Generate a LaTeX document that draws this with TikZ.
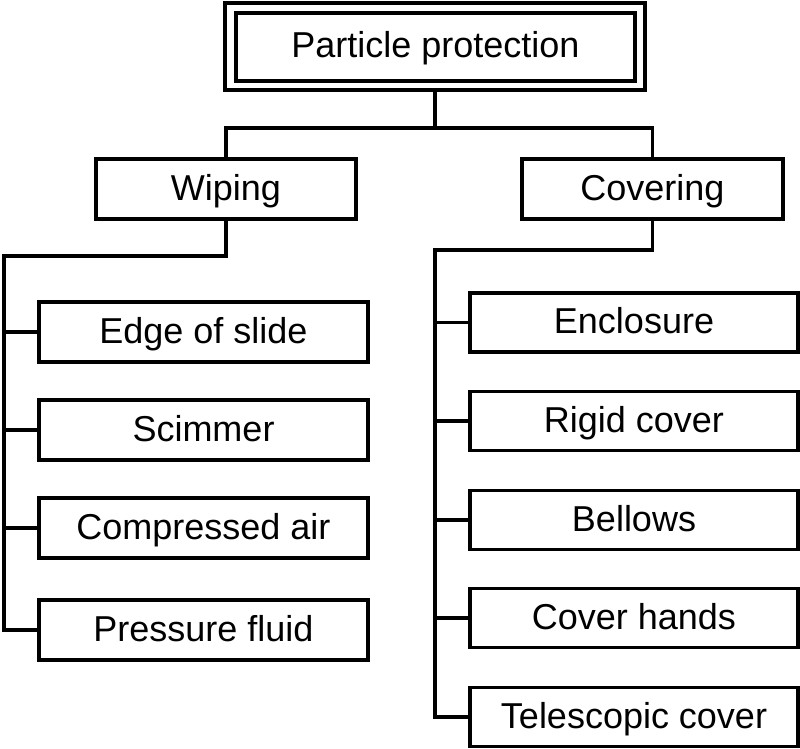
\documentclass[tikz,border=0pt]{standalone}
\usepackage{fontspec}
\setmainfont{Liberation Sans}
\begin{document}
\begin{tikzpicture}[x=1pt,y=-1pt,
  line width=3.5pt,
  box/.style={draw, line width=3.5pt, rectangle, inner sep=0pt, outer sep=0pt,
    font=\fontsize{36}{40}\selectfont, text height=27pt, text depth=5pt, align=center},
  lbox/.style={box, minimum width=329pt, minimum height=60pt},
  rbox/.style={box, minimum width=328pt, minimum height=59pt},
  conn/.style={line width=3.6pt, line join=miter}
]
\useasboundingbox (0,0) rectangle (800,749);

% top double box
\node[draw, line width=3.5pt, inner sep=0pt, outer sep=0pt, minimum width=420pt, minimum height=87pt] (topouter) at (435,46.5) {};
\node[box, minimum width=399pt, minimum height=68pt] (top) at (435.5,47) {Particle protection};

% level 2
\node[box, minimum width=260pt, minimum height=60pt] (wip) at (226,189) {Wiping};
\node[box, minimum width=261pt, minimum height=60pt] (cov) at (652.5,189) {Covering};

% left column
\node[lbox] (e1) at (203.5,332) {Edge of slide};
\node[lbox] (e2) at (203.5,430) {Scimmer};
\node[lbox] (e3) at (203.5,528) {Compressed air};
\node[lbox] (e4) at (203.5,630) {Pressure fluid};

% right column
\node[rbox] (r1) at (634,322.5) {Enclosure};
\node[rbox] (r2) at (634,421) {Rigid cover};
\node[rbox] (r3) at (634,520) {Bellows};
\node[rbox] (r4) at (634,618) {Cover hands};
\node[rbox] (r5) at (634,717) {Telescopic cover};

% connectors
\coordinate (hb) at (435,128);
\draw[conn] (topouter.south) -- (topouter.south |- hb);
\draw[conn] (wip.north) |- (hb) -| (cov.north);

\coordinate (lj) at (4,256);
\draw[conn] (wip.south) |- (lj) -- (lj |- e4.west) -- (e4.west);
\draw[conn] (lj |- e1.west) -- (e1.west);
\draw[conn] (lj |- e2.west) -- (e2.west);
\draw[conn] (lj |- e3.west) -- (e3.west);

\coordinate (rj) at (435,250);
\draw[conn] (cov.south) |- (rj) -- (rj |- r5.west) -- (r5.west);
\draw[conn] (rj |- r1.west) -- (r1.west);
\draw[conn] (rj |- r2.west) -- (r2.west);
\draw[conn] (rj |- r3.west) -- (r3.west);
\draw[conn] (rj |- r4.west) -- (r4.west);
\end{tikzpicture}
\end{document}
